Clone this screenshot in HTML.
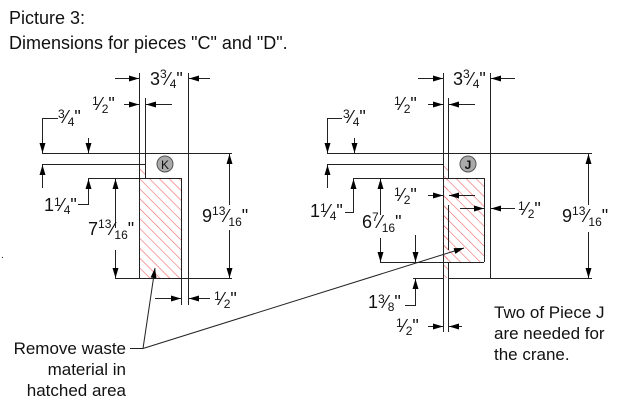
<!DOCTYPE html>
<html><head><meta charset="utf-8"><style>
body{margin:0;background:#fff}
svg{display:block}
text{font-family:"Liberation Sans",Arial,sans-serif;fill:#111}
.d{font-size:18px}
.s{font-size:12px}
</style></head><body>
<svg width="620" height="404" viewBox="0 0 620 404" xmlns="http://www.w3.org/2000/svg">
<defs>
<pattern id="h" width="7" height="7" patternUnits="userSpaceOnUse" patternTransform="rotate(-45)">
<line x1="0" y1="0" x2="0" y2="7" stroke="#e66" stroke-width="1.2"/>
</pattern>
<marker id="a" viewBox="0 0 10 6" refX="10" refY="3" markerWidth="11" markerHeight="6" orient="auto" markerUnits="userSpaceOnUse">
<path d="M0,0 L10,3 L0,6 z" fill="#000"/></marker>
</defs>
<text x="9" y="24" style="font-size:18px">Picture 3:</text>
<text x="9" y="49" style="font-size:18px">Dimensions for pieces "C" and "D".</text>

<g stroke="#222" stroke-width="1" fill="none">
<!-- LEFT -->
<rect x="140" y="178" width="41" height="100" fill="url(#h)" stroke="none"/>
<rect x="140" y="164" width="5" height="14" fill="url(#h)" stroke="none"/>
<line x1="139.5" y1="73" x2="139.5" y2="278"/>
<line x1="145.5" y1="98" x2="145.5" y2="178"/>
<line x1="188.5" y1="73" x2="188.5" y2="305"/>
<line x1="181.5" y1="178" x2="181.5" y2="305"/>
<line x1="42" y1="153.5" x2="232" y2="153.5"/>
<line x1="42" y1="164.5" x2="145" y2="164.5"/>
<line x1="88" y1="178.5" x2="181" y2="178.5"/>
<line x1="115" y1="278.5" x2="232" y2="278.5"/>
<line x1="115" y1="78.5" x2="139" y2="78.5" marker-end="url(#a)"/>
<line x1="210" y1="78.5" x2="189" y2="78.5" marker-end="url(#a)"/>
<line x1="124" y1="104.5" x2="139" y2="104.5" marker-end="url(#a)"/>
<line x1="172" y1="104.5" x2="146" y2="104.5" marker-end="url(#a)"/>
<polyline points="58,118.5 42.5,118.5 42.5,153" marker-end="url(#a)"/>
<line x1="42.5" y1="188" x2="42.5" y2="165" marker-end="url(#a)"/>
<line x1="88.5" y1="138" x2="88.5" y2="153" marker-end="url(#a)"/>
<polyline points="78,204.5 88.5,204.5 88.5,179" marker-end="url(#a)"/>
<line x1="115.5" y1="228" x2="115.5" y2="179" marker-end="url(#a)"/>
<line x1="115.5" y1="250" x2="115.5" y2="278" marker-end="url(#a)"/>
<line x1="229.5" y1="205" x2="229.5" y2="154" marker-end="url(#a)"/>
<line x1="229.5" y1="230" x2="229.5" y2="278" marker-end="url(#a)"/>
<line x1="155" y1="298.5" x2="181" y2="298.5" marker-end="url(#a)"/>
<line x1="210" y1="298.5" x2="189" y2="298.5" marker-end="url(#a)"/>

<!-- RIGHT -->
<rect x="443" y="178" width="41" height="84" fill="url(#h)" stroke="none"/>
<rect x="443" y="164" width="5" height="114" fill="url(#h)" stroke="none"/>
<line x1="443.5" y1="73" x2="443.5" y2="332"/>
<line x1="448.5" y1="98" x2="448.5" y2="178"/>
<line x1="448.5" y1="262" x2="448.5" y2="332"/>
<line x1="448.5" y1="205" x2="448.5" y2="250"/>
<line x1="490.5" y1="73" x2="490.5" y2="278"/>
<line x1="484.5" y1="178" x2="484.5" y2="262"/>
<line x1="327" y1="153.5" x2="592" y2="153.5"/>
<line x1="327" y1="164.5" x2="443" y2="164.5"/>
<line x1="353" y1="178.5" x2="484" y2="178.5"/>
<line x1="380" y1="262.5" x2="484" y2="262.5"/>
<line x1="413" y1="278.5" x2="443" y2="278.5"/>
<line x1="448" y1="278.5" x2="592" y2="278.5"/>
<line x1="418" y1="78.5" x2="443" y2="78.5" marker-end="url(#a)"/>
<line x1="515" y1="78.5" x2="491" y2="78.5" marker-end="url(#a)"/>
<line x1="428" y1="104.5" x2="443" y2="104.5" marker-end="url(#a)"/>
<line x1="475" y1="104.5" x2="449" y2="104.5" marker-end="url(#a)"/>
<polyline points="342,118.5 327.5,118.5 327.5,153" marker-end="url(#a)"/>
<line x1="327.5" y1="188" x2="327.5" y2="165" marker-end="url(#a)"/>
<line x1="354.5" y1="138" x2="354.5" y2="153" marker-end="url(#a)"/>
<polyline points="345,212.5 353.5,212.5 353.5,179" marker-end="url(#a)"/>
<line x1="380.5" y1="215" x2="380.5" y2="179" marker-end="url(#a)"/>
<line x1="380.5" y1="238" x2="380.5" y2="262" marker-end="url(#a)"/>
<line x1="415.5" y1="235" x2="415.5" y2="262" marker-end="url(#a)"/>
<polyline points="405,305.5 415.5,305.5 415.5,279" marker-end="url(#a)"/>
<line x1="428" y1="195.5" x2="443" y2="195.5" marker-end="url(#a)"/>
<line x1="475" y1="195.5" x2="449" y2="195.5" marker-end="url(#a)"/>
<line x1="460" y1="208.5" x2="484" y2="208.5" marker-end="url(#a)"/>
<line x1="515" y1="208.5" x2="491" y2="208.5" marker-end="url(#a)"/>
<line x1="588.5" y1="205" x2="588.5" y2="154" marker-end="url(#a)"/>
<line x1="588.5" y1="232" x2="588.5" y2="278" marker-end="url(#a)"/>
<line x1="428" y1="326.5" x2="443" y2="326.5" marker-end="url(#a)"/>
<line x1="462" y1="326.5" x2="449" y2="326.5" marker-end="url(#a)"/>

<line x1="130" y1="348.5" x2="143" y2="348.5"/>
<line x1="143" y1="348.5" x2="155" y2="268" marker-end="url(#a)"/>
<line x1="143" y1="348.5" x2="464" y2="248" marker-end="url(#a)"/>
</g>

<circle cx="165" cy="164" r="8" fill="#aaa" stroke="#555"/>
<text x="165" y="169" text-anchor="middle" style="font-size:12px">K</text>
<circle cx="468" cy="164" r="8" fill="#aaa" stroke="#555"/>
<text x="468" y="169" text-anchor="middle" style="font-size:12px;font-weight:bold">J</text>

<text x="150" y="85" class="d">3<tspan class="s" dy="-7">3</tspan><tspan dy="7">⁄</tspan><tspan class="s" dy="3">4</tspan><tspan dy="-3">"</tspan></text>
<text x="92" y="110" class="d"><tspan class="s" dy="-5">1</tspan><tspan dy="5">⁄</tspan><tspan class="s" dy="3">2</tspan><tspan dy="-3">"</tspan></text>
<text x="58" y="123" class="d"><tspan class="s" dy="-5">3</tspan><tspan dy="5">⁄</tspan><tspan class="s" dy="3">4</tspan><tspan dy="-3">"</tspan></text>
<text x="44" y="211" class="d">1<tspan class="s" dy="-5">1</tspan><tspan dy="5">⁄</tspan><tspan class="s" dy="3">4</tspan><tspan dy="-3">"</tspan></text>
<text x="88" y="235" class="d">7<tspan class="s" dy="-7">13</tspan><tspan dy="7">⁄</tspan><tspan class="s" dy="4">16</tspan><tspan dy="-4">"</tspan></text>
<text x="202" y="222" class="d">9<tspan class="s" dy="-7">13</tspan><tspan dy="7">⁄</tspan><tspan class="s" dy="4">16</tspan><tspan dy="-4">"</tspan></text>
<text x="214" y="305" class="d"><tspan class="s" dy="-5">1</tspan><tspan dy="5">⁄</tspan><tspan class="s" dy="3">2</tspan><tspan dy="-3">"</tspan></text>

<text x="453" y="85" class="d">3<tspan class="s" dy="-7">3</tspan><tspan dy="7">⁄</tspan><tspan class="s" dy="3">4</tspan><tspan dy="-3">"</tspan></text>
<text x="394" y="110" class="d"><tspan class="s" dy="-5">1</tspan><tspan dy="5">⁄</tspan><tspan class="s" dy="3">2</tspan><tspan dy="-3">"</tspan></text>
<text x="343" y="123" class="d"><tspan class="s" dy="-5">3</tspan><tspan dy="5">⁄</tspan><tspan class="s" dy="3">4</tspan><tspan dy="-3">"</tspan></text>
<text x="310" y="217" class="d">1<tspan class="s" dy="-5">1</tspan><tspan dy="5">⁄</tspan><tspan class="s" dy="3">4</tspan><tspan dy="-3">"</tspan></text>
<text x="394" y="201" class="d"><tspan class="s" dy="-5">1</tspan><tspan dy="5">⁄</tspan><tspan class="s" dy="3">2</tspan><tspan dy="-3">"</tspan></text>
<text x="518" y="215" class="d"><tspan class="s" dy="-5">1</tspan><tspan dy="5">⁄</tspan><tspan class="s" dy="3">2</tspan><tspan dy="-3">"</tspan></text>
<text x="362" y="228" class="d">6<tspan class="s" dy="-7">7</tspan><tspan dy="7">⁄</tspan><tspan class="s" dy="4">16</tspan><tspan dy="-4">"</tspan></text>
<text x="562" y="222" class="d">9<tspan class="s" dy="-7">13</tspan><tspan dy="7">⁄</tspan><tspan class="s" dy="4">16</tspan><tspan dy="-4">"</tspan></text>
<text x="368" y="308" class="d">1<tspan class="s" dy="-5">3</tspan><tspan dy="5">⁄</tspan><tspan class="s" dy="3">8</tspan><tspan dy="-3">"</tspan></text>
<text x="396" y="332" class="d"><tspan class="s" dy="-5">1</tspan><tspan dy="5">⁄</tspan><tspan class="s" dy="3">2</tspan><tspan dy="-3">"</tspan></text>

<text x="126" y="354" text-anchor="end" style="font-size:17px">Remove waste</text>
<text x="126" y="375" text-anchor="end" style="font-size:17px">material in</text>
<text x="126" y="396" text-anchor="end" style="font-size:17px">hatched area</text>
<text x="494" y="318" style="font-size:17px">Two of Piece J</text>
<text x="494" y="339" style="font-size:17px">are needed for</text>
<text x="494" y="360" style="font-size:17px">the crane.</text>
<text x="1" y="258" style="font-size:10px">.</text>
</svg>
</body></html>
